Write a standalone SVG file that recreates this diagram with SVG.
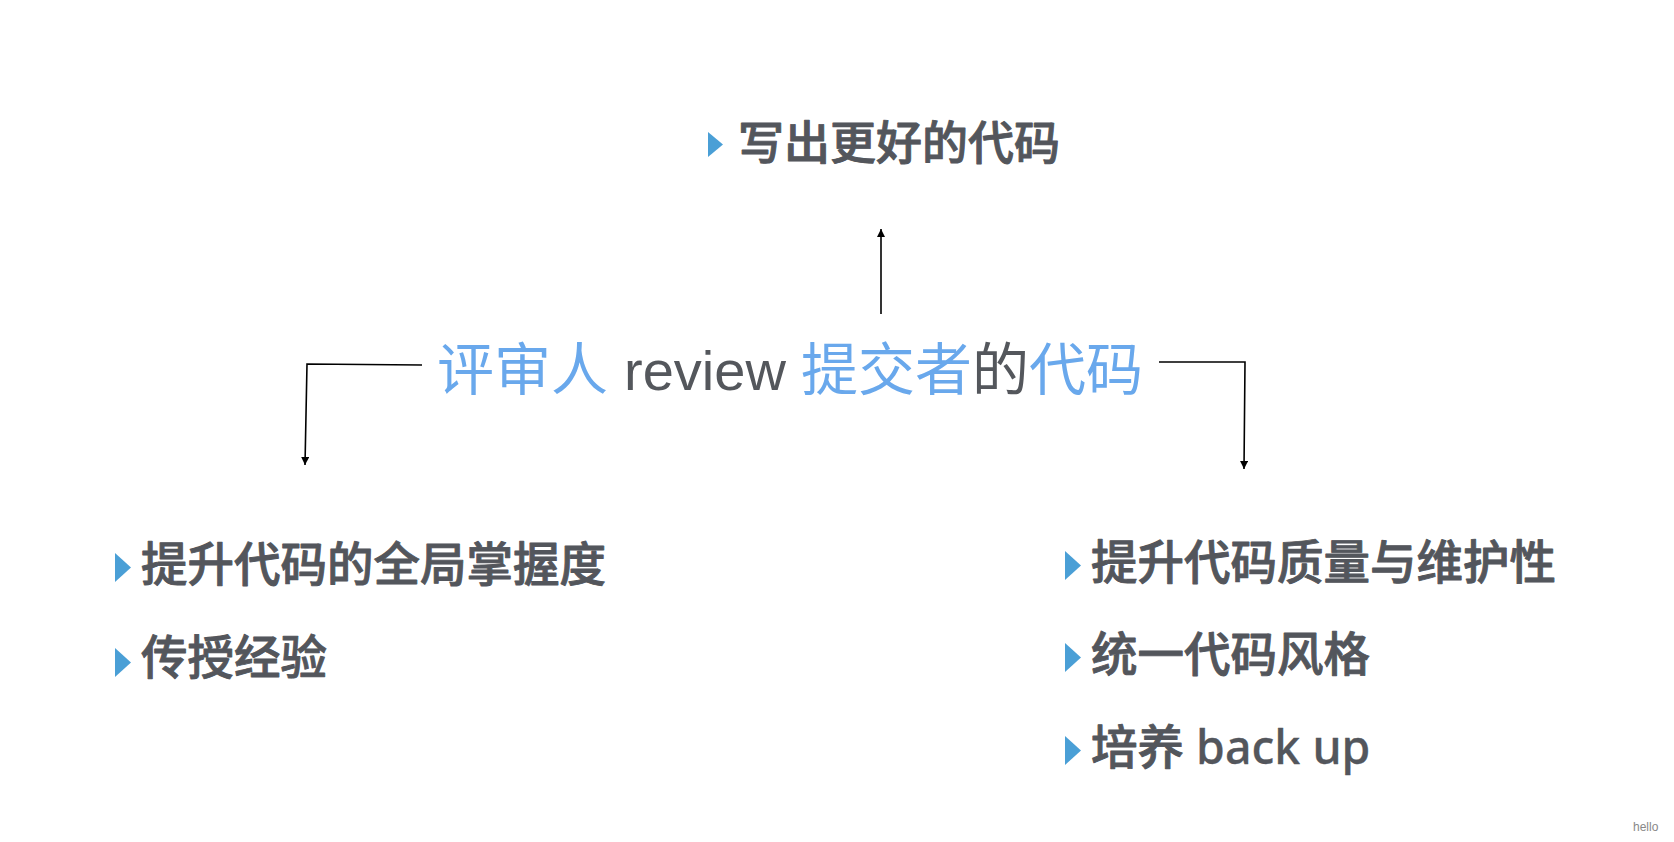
<svg xmlns="http://www.w3.org/2000/svg" width="1674" height="842" viewBox="0 0 1674 842">
<style>
.item{font-family:"Noto Sans CJK SC","Noto Sans",sans-serif;font-weight:500;font-size:46.5px;fill:#53565c;stroke:#53565c;stroke-width:0.9;stroke-linejoin:round}
.lat{font-family:"Noto Sans",sans-serif;font-weight:500}
.center{font-family:"Noto Sans CJK SC","Noto Sans",sans-serif;font-weight:400;font-size:57px}
.blue{fill:#69a8ec}
.gray{fill:#54575c}
.rev{font-family:"Liberation Sans",Arial,sans-serif;font-size:56px}
.bullet{fill:#4a9fd6}
.conn{fill:none;stroke:#000;stroke-width:1.6}
</style>
<defs>
<marker id="arr" viewBox="0 0 10 10" refX="10" refY="5" markerWidth="8" markerHeight="8" markerUnits="userSpaceOnUse" orient="auto">
<path d="M0,0 L10,5 L0,10 z" fill="#000"/>
</marker>
</defs>
<rect width="1674" height="842" fill="#fff"/>
<g id="connectors">
<path class="conn" d="M881,314 L881,229" marker-end="url(#arr)"/>
<path class="conn" d="M422,365 L307,364 L305,465" marker-end="url(#arr)"/>
<path class="conn" d="M1159,362 L1245,362 L1244,469" marker-end="url(#arr)"/>
</g>
<g id="center">
<text class="center" y="390"><tspan class="blue" x="437">评审人</tspan><tspan class="gray rev" x="624">review</tspan><tspan class="blue" x="801">提交者</tspan><tspan class="gray">的</tspan><tspan class="blue">代码</tspan></text>
</g>
<g id="top">
<polygon class="bullet" points="708,132 723,144.5 708,157"/>
<text class="item" x="738" y="159" style="font-size:46px">写出更好的代码</text>
</g>
<g id="left1">
<polygon class="bullet" points="115,553 131,567.5 115,582"/>
<text class="item" x="141" y="581">提升代码的全局掌握度</text>
</g>
<g id="left2">
<polygon class="bullet" points="115,648 131,662.5 115,677"/>
<text class="item" x="141" y="674">传授经验</text>
</g>
<g id="right1">
<polygon class="bullet" points="1065,551 1081,565.5 1065,580"/>
<text class="item" x="1091" y="579">提升代码质量与维护性</text>
</g>
<g id="right2">
<polygon class="bullet" points="1065,643 1081,657.5 1065,672"/>
<text class="item" x="1091" y="671">统一代码风格</text>
</g>
<g id="right3">
<polygon class="bullet" points="1065,736 1081,750.5 1065,765"/>
<text class="item" x="1091" y="764">培养<tspan class="lat" style="stroke-width:0.3"> back up</tspan></text>
</g>
<text x="1633" y="831" style="font-family:'Liberation Sans',sans-serif;font-size:12px;fill:#888">hello</text>
</svg>
